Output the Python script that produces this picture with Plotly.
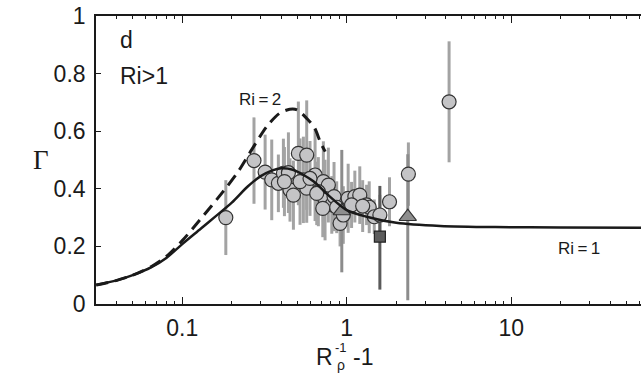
import plotly.graph_objects as go
import math

# ---- data ----
circ_x = [0.184, 0.273, 0.319, 0.350, 0.384, 0.412, 0.442, 0.452, 0.474, 0.508,
          0.571, 0.545, 0.571, 0.642, 0.721, 0.773, 0.672, 0.738, 0.811, 0.715,
          0.837, 0.869, 0.911, 0.953, 1.02, 1.12, 1.20, 1.07, 1.32, 1.37,
          1.47, 1.59, 1.82, 2.37, 4.19, 0.418, 0.52, 0.598, 0.657, 1.25]
circ_y = [0.300, 0.498, 0.458, 0.431, 0.419, 0.454, 0.456, 0.396, 0.378, 0.523,
          0.517, 0.431, 0.402, 0.448, 0.425, 0.413, 0.390, 0.361, 0.344, 0.332,
          0.373, 0.336, 0.280, 0.309, 0.367, 0.373, 0.378, 0.344, 0.344, 0.336,
          0.303, 0.309, 0.355, 0.451, 0.702, 0.425, 0.425, 0.436, 0.384, 0.340]
circ_err = [0.13, 0.15, 0.13, 0.14, 0.10, 0.12, 0.14, 0.11, 0.12, 0.18,
            0.19, 0.15, 0.12, 0.16, 0.14, 0.13, 0.12, 0.14, 0.10, 0.10,
            0.12, 0.09, 0.08, 0.10, 0.12, 0.09, 0.10, 0.08, 0.07, 0.09,
            0.06, 0.07, 0.085, 0.11, 0.21, 0.12, 0.15, 0.13, 0.11, 0.09]

tri_x = [0.933, 2.35]
tri_y = [0.323, 0.303]
tri_err_hi = [0.212, 0.217]
tri_err_lo = [0.213, 0.29]

sq_x = [1.59]
sq_y = [0.234]
sq_err_hi = [0.176]
sq_err_lo = [0.184]

ri1_x = [0.03, 0.04, 0.05, 0.065, 0.08, 0.1, 0.13, 0.16, 0.2, 0.25, 0.3, 0.35, 0.4,
         0.47, 0.55, 0.63, 0.79, 1.0, 1.32, 2.0, 3.7, 8, 20, 62]
ri1_y = [0.066, 0.082, 0.10, 0.128, 0.160, 0.208, 0.262, 0.305, 0.352, 0.408, 0.444,
         0.463, 0.471, 0.466, 0.447, 0.425, 0.373, 0.326, 0.303, 0.282, 0.271, 0.267,
         0.266, 0.265]

ri2_x = [0.03, 0.04, 0.05, 0.065, 0.08, 0.1, 0.128, 0.177, 0.219, 0.264, 0.326, 0.39,
         0.45, 0.50, 0.57, 0.64, 0.69, 0.74]
ri2_y = [0.066, 0.082, 0.10, 0.13, 0.165, 0.22, 0.292, 0.39, 0.46, 0.535, 0.616, 0.662,
         0.676, 0.674, 0.645, 0.61, 0.563, 0.529]

x_major = [0.1, 1, 10]
x_major_text = ["0.1", "1", "10"]
x_minor = [0.03, 0.04, 0.05, 0.06, 0.07, 0.08, 0.09,
           0.2, 0.3, 0.4, 0.5, 0.6, 0.7, 0.8, 0.9,
           2, 3, 4, 5, 6, 7, 8, 9, 20, 30, 40, 50, 60]
y_ticks = [0, 0.2, 0.4, 0.6, 0.8, 1]
y_tick_text = ["0", "0.2", "0.4", "0.6", "0.8", "1"]

# ---- figure ----
W, H = 641, 375
ML, MR, MT, MB = 96, 0, 16, 71
PW, PH = W - ML - MR, H - MT - MB

def px(xp):
    return (xp - ML) / PW

def py(yp):
    return (H - MB - yp) / PH

FONT = "Liberation Sans, Arial, Helvetica, sans-serif"
BAR_C = "#a3a3a3"

fig = go.Figure()

# error bars (behind markers)
fig.add_trace(go.Scatter(x=circ_x, y=circ_y, mode="markers",
                         marker=dict(size=1, color="rgba(0,0,0,0)"),
                         error_y=dict(type="data", array=circ_err, color=BAR_C,
                                      thickness=3, width=0),
                         hoverinfo="skip", showlegend=False))
fig.add_trace(go.Scatter(x=tri_x, y=tri_y, mode="markers",
                         marker=dict(size=1, color="rgba(0,0,0,0)"),
                         error_y=dict(type="data", array=tri_err_hi, arrayminus=tri_err_lo,
                                      color="#8c8c8c", thickness=3, width=0),
                         hoverinfo="skip", showlegend=False))
fig.add_trace(go.Scatter(x=sq_x, y=sq_y, mode="markers",
                         marker=dict(size=1, color="rgba(0,0,0,0)"),
                         error_y=dict(type="data", array=sq_err_hi, arrayminus=sq_err_lo,
                                      color="#5a5a5a", thickness=3, width=0),
                         hoverinfo="skip", showlegend=False))

# markers
fig.add_trace(go.Scatter(x=circ_x, y=circ_y, mode="markers",
                         marker=dict(symbol="circle", size=14, color="#c4c4c6",
                                     line=dict(color="#333333", width=1.2)),
                         showlegend=False))
fig.add_trace(go.Scatter(x=tri_x, y=tri_y, mode="markers",
                         marker=dict(symbol="triangle-up", size=15, color="#8e8e8e",
                                     line=dict(color="#333333", width=1.2)),
                         showlegend=False))
fig.add_trace(go.Scatter(x=sq_x, y=sq_y, mode="markers",
                         marker=dict(symbol="square", size=11, color="#5c5c5c",
                                     line=dict(color="#222222", width=1.2)),
                         showlegend=False))

# model curves
fig.add_trace(go.Scatter(x=ri2_x, y=ri2_y, mode="lines",
                         line=dict(color="#1a1a1a", width=3, dash="12px,7px",
                                   shape="spline", smoothing=0.8),
                         showlegend=False))
fig.add_trace(go.Scatter(x=ri1_x, y=ri1_y, mode="lines",
                         line=dict(color="#1a1a1a", width=2.5, shape="spline", smoothing=0.8),
                         showlegend=False))

fig.update_layout(
    width=W, height=H,
    margin=dict(l=ML, r=MR, t=MT, b=MB, pad=0),
    paper_bgcolor="white", plot_bgcolor="white",
    font=dict(family=FONT, size=23, color="#1a1a1a"),
    showlegend=False,
)

fig.update_xaxes(
    type="log", range=[math.log10(0.0299), math.log10(61.5)],
    showline=True, linecolor="#1a1a1a", linewidth=1.6, mirror="ticks",
    showgrid=False, zeroline=False,
    tickmode="array", tickvals=x_major, ticktext=x_major_text,
    ticks="inside", ticklen=7, tickwidth=1.3, tickcolor="#1a1a1a",
    tickfont=dict(family=FONT, size=23, color="#1a1a1a"),
    ticklabelstandoff=3,
    minor=dict(tickmode="array", tickvals=x_minor, ticks="inside", ticklen=3.5,
               tickwidth=1.3, tickcolor="#1a1a1a", showgrid=False),
)
fig.update_yaxes(
    range=[0, 1],
    showline=True, linecolor="#1a1a1a", linewidth=1.6, mirror=False,
    showgrid=False, zeroline=False,
    tickmode="array", tickvals=y_ticks, ticktext=y_tick_text,
    ticks="inside", ticklen=5, tickwidth=1.3, tickcolor="#1a1a1a",
    tickfont=dict(family=FONT, size=23, color="#1a1a1a"),
    ticklabelstandoff=4,
)

def ann(text, xp, yp, size, xanchor="center", family=FONT):
    fig.add_annotation(text=text, x=px(xp), y=py(yp), xref="paper", yref="paper",
                       xanchor=xanchor, yanchor="middle", showarrow=False,
                       font=dict(family=family, size=size, color="#1a1a1a"))

ann("d", 118, 40, 23, xanchor="left")
ann("Ri>1", 118, 75.5, 23, xanchor="left")
ann("Ri\u2009=\u20092", 259.7, 99.7, 17)
ann("Ri\u2009=\u20091", 579, 248.3, 17)
# axis titles
ann("\u0393", 41, 160, 27, family="Liberation Serif, Times New Roman, serif")
ann("R", 324.5, 357, 23)
ann("-1", 340.5, 347, 13)
ann("\u03c1", 341, 365, 14)
ann("-1", 363, 357, 23)

fig.write_html("out.html")
